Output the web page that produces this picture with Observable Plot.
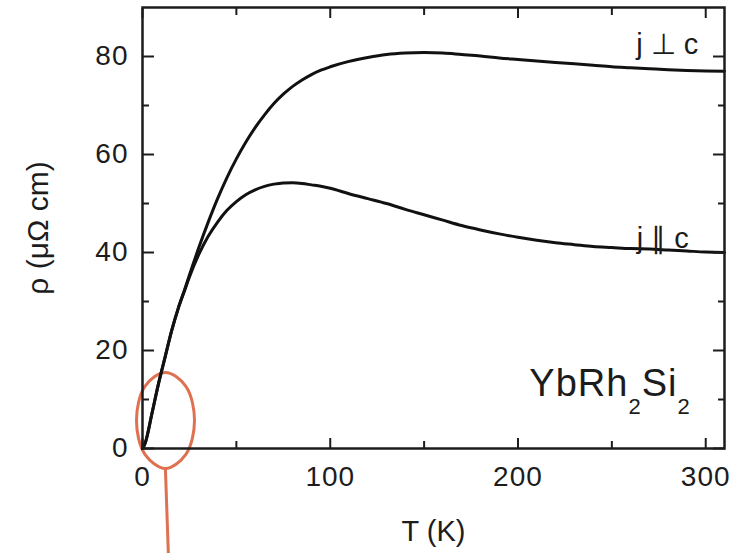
<!DOCTYPE html>
<html><head><meta charset="utf-8">
<script src="https://cdn.jsdelivr.net/npm/d3@7"></script>
<script src="https://cdn.jsdelivr.net/npm/@observablehq/plot@0.6"></script>
<style>
html,body{margin:0;padding:0;background:#fff;}
#chart svg{display:block;}
</style></head><body><div id="chart"></div>
<script>
// Temperature (K)
const temperature = [0,1.5,5,8.5,12,15.5,19,22.5,25,30,35,40,45,50,55,60,65,70,75,80,85,90,95,100,110,120,130,140,150,160,170,180,190,200,210,220,230,240,250,260,270,280,290,300,310];
// resistivity, current perpendicular to c (µΩ cm)
const rhoPerp = [0,1.2,7.1,13.2,18.6,24,28.6,32.5,35.4,41.0,46.2,51.0,55.3,59.1,62.5,65.5,68.1,70.4,72.3,73.9,75.2,76.3,77.2,77.9,79.0,79.8,80.4,80.7,80.8,80.7,80.4,80.1,79.7,79.4,79.1,78.8,78.5,78.2,77.9,77.7,77.5,77.3,77.15,77.05,77.0];
// resistivity, current parallel to c (µΩ cm)
const rhoPar = [0,1.2,7.1,13.2,18.6,24,28.5,32.3,35.0,39.6,43.3,46.2,48.6,50.4,51.8,52.8,53.5,53.95,54.2,54.25,54.1,53.8,53.5,53.1,52.0,51.0,50.0,48.8,47.7,46.6,45.5,44.6,43.8,43.1,42.5,42.0,41.6,41.2,41.0,40.8,40.7,40.5,40.3,40.1,40.0];

const xMajorTicks = [0,100,200,300];
const xMinorTicks = [50,150,250];
const yMajorTicks = [0,20,40,60,80];
const yMinorTicks = [10,30,50,70];

const seriesLabels = ["j \u22A5 c", "j \u2225 c"];
const compoundLabel = "YbRh2Si2";
const xTitle = "T (K)";
const yTitle = "\u03C1 (\u03BC\u03A9 cm)";

// orange annotation ellipse (data units)
const ellipseT = [12.2, 23.1, 27.7, 23.1, 12.2, 1.3, -3.2, 1.3];
const ellipseRho = [15.5, 12.7, 5.7, -1.2, -4.1, -1.2, 5.7, 12.7];
const pointerT = [12.2, 14.0];
const pointerRho = [-4.1, -24];

const rows = temperature.map((t, i) => ({T: t, perp: rhoPerp[i], par: rhoPar[i]}));
const ellipse = ellipseT.map((t, i) => ({T: t, rho: ellipseRho[i]}));

const ink = "#1c1c1c";
const orange = "#de7152";
const tickFont = {fontSize: 28};

const chart = Plot.plot({
  width: 744, height: 553,
  marginLeft: 142, marginRight: 20, marginTop: 7, marginBottom: 105,
  style: {fontFamily: "'Liberation Sans', Arial, sans-serif", fontSize: "28px", color: ink, background: "#fff", overflow: "visible"},
  x: {domain: [0, 310]},
  y: {domain: [0, 90]},
  marks: [
    Plot.line(ellipse, {x: "T", y: "rho", curve: "catmull-rom-closed", stroke: orange, strokeWidth: 3}),
    Plot.link([0], {x1: () => pointerT[0], y1: () => pointerRho[0], x2: () => pointerT[1], y2: () => pointerRho[1], stroke: orange, strokeWidth: 3}),
    Plot.line(rows, {x: "T", y: "perp", curve: "monotone-x", stroke: "#111", strokeWidth: 3}),
    Plot.line(rows, {x: "T", y: "par", curve: "monotone-x", stroke: "#111", strokeWidth: 3}),
    Plot.frame({stroke: ink, strokeWidth: 2.5}),
    Plot.axisX(xMajorTicks, {anchor: "bottom", tickSize: -10, tickPadding: 28, strokeWidth: 2, stroke: ink, ...tickFont, label: null, className: "ticklab"}),
    Plot.axisX([], {anchor: "bottom", tickSize: 0, label: xTitle, labelAnchor: "center", labelArrow: "none", labelOffset: 92, fontSize: 29, className: "xtitle"}),
    Plot.axisX(xMinorTicks, {anchor: "bottom", tickSize: -7, strokeWidth: 2, stroke: ink, tickFormat: () => "", label: null}),
    Plot.axisX(xMajorTicks, {anchor: "top", tickSize: -10, strokeWidth: 2, stroke: ink, tickFormat: () => "", label: null}),
    Plot.axisX(xMinorTicks, {anchor: "top", tickSize: -7, strokeWidth: 2, stroke: ink, tickFormat: () => "", label: null}),
    Plot.axisY(yMajorTicks, {anchor: "left", tickSize: -12, tickPadding: 26, strokeWidth: 2, stroke: ink, ...tickFont, label: null, className: "ticklab"}),
    Plot.axisY([], {anchor: "left", tickSize: 0, label: yTitle, labelAnchor: "center", labelArrow: "none", labelOffset: 116, fontSize: 30, className: "ytitle"}),
    Plot.axisY(yMinorTicks, {anchor: "left", tickSize: -7, strokeWidth: 2, stroke: ink, tickFormat: () => "", label: null}),
    Plot.axisY(yMajorTicks, {anchor: "right", tickSize: -12, strokeWidth: 2, stroke: ink, tickFormat: () => "", label: null}),
    Plot.axisY(yMinorTicks, {anchor: "right", tickSize: -7, strokeWidth: 2, stroke: ink, tickFormat: () => "", label: null}),
    Plot.text([seriesLabels[0]], {text: d => d, x: 296, y: 82.4, textAnchor: "end", fontSize: 29, fill: ink}),
    Plot.text([seriesLabels[1]], {text: d => d, x: 291, y: 42.9, textAnchor: "end", fontSize: 29, fill: ink}),
    Plot.text([compoundLabel], {text: d => d, x: 292, y: 13.1, textAnchor: "end", fontSize: 38, fill: ink, className: "formula"})
  ]
});

const svg = d3.select(chart);
svg.selectAll(".ticklab text").attr("letter-spacing", "1px");
svg.selectAll(".xtitle text").attr("letter-spacing", "1.5px");
svg.selectAll(".ytitle text").attr("letter-spacing", "2px");

// subscripts in the compound name
svg.selectAll(".formula text").each(function() {
  const t = d3.select(this);
  const s = t.text();
  t.text(null).attr("letter-spacing", "1px");
  const parts = s.match(/[A-Za-z]+|\d+/g);
  let low = false;
  for (const p of parts) {
    const isNum = /^\d+$/.test(p);
    const ts = t.append("tspan").text(p);
    if (isNum) {
      ts.attr("font-size", "22px");
      if (!low) { ts.attr("dy", 18); low = true; }
    } else if (low) {
      ts.attr("dy", -18); low = false;
    }
  }
});

document.getElementById("chart").appendChild(chart);
</script></body></html>
